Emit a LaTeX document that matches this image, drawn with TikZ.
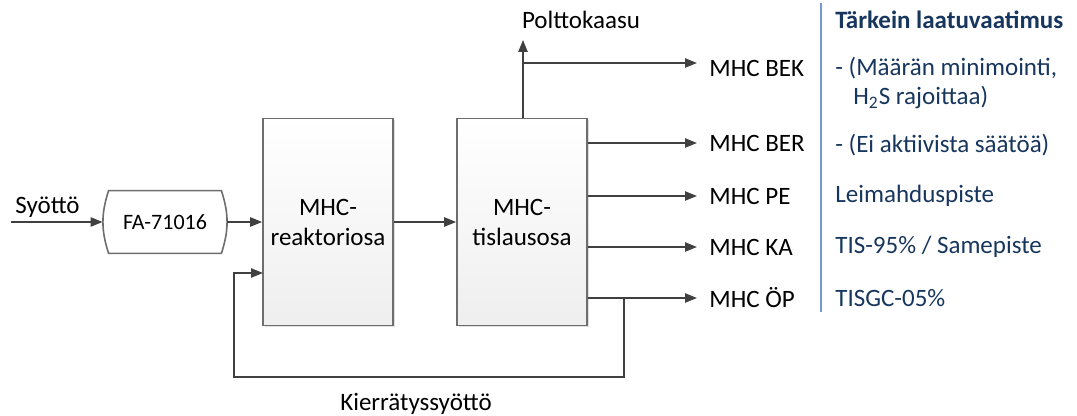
\documentclass[tikz,border=0pt]{standalone}
\usepackage{fontspec}
\setmainfont{Carlito}
\usetikzlibrary{arrows.meta,shadows}
\definecolor{linegray}{RGB}{64,64,64}
\definecolor{boxgray}{RGB}{110,110,110}
\definecolor{navy}{RGB}{23,54,93}
\definecolor{sepblue}{RGB}{120,150,210}

\tikzset{
  flow/.style={draw=linegray, line width=0.9pt, -{Triangle[length=6pt,width=4.6pt]}},
  unit/.style={draw=boxgray, line width=0.8pt, top color=white, bottom color=gray!13,
    minimum width=65pt, minimum height=103.5pt, inner sep=0pt, align=center,
    drop shadow={opacity=0.25, shadow xshift=1pt, shadow yshift=-1pt}},
  drum/.style={minimum width=62pt, minimum height=31pt, inner sep=0pt, font=\fontsize{11}{13}\selectfont},
  drumline/.style={draw=boxgray, line width=0.8pt},
  outlabel/.style={anchor=west, inner sep=0pt},
  req/.style={anchor=west, inner sep=0pt, text=navy}
}

\begin{document}
\begin{tikzpicture}[x=0.5pt, y=-0.5pt, font=\fontsize{12.5}{15}\selectfont]
\useasboundingbox (0,0) rectangle (1077,416);

% units
\node[drum] (fa) at (165,222) {FA-71016};
\draw[drumline] ([xshift=3pt]fa.north west) -- ([xshift=-3pt]fa.north east)
  to[bend left=18] ([xshift=-3pt]fa.south east) -- ([xshift=3pt]fa.south west)
  to[bend left=18] cycle;
\node[unit] (reak) at (328,222) {MHC-\\reaktoriosa};
\node[unit] (tis) at (522,222) {MHC-\\tislausosa};

% feed
\coordinate (feed) at (11,222);
\node[inner sep=0pt, anchor=base west] (syo) at (15,214) {Syöttö};
\draw[flow] (feed) -- (fa.west);
\draw[flow] (fa.east) -- (reak.west);
\draw[flow] (reak.east) -- (tis.west);

% products
\node[inner sep=0pt] (gas) at (581,20) {Polttokaasu};
\coordinate (gastip) at (523,40);
\node[outlabel] (bek) at (709,68) {MHC BEK};
\node[outlabel] (ber) at (709,143) {MHC BER};
\node[outlabel] (pe) at (709,196) {MHC PE};
\node[outlabel] (ka) at (709,247) {MHC KA};
\node[outlabel] (op) at (709,298) {MHC ÖP};

\draw[flow] (tis.north -| gastip) -- (gastip);
\draw[flow] (gastip |- 0,63) -- ([xshift=-6pt]bek.west |- 0,63);
\draw[flow] (tis.east |- ber.west) -- ([xshift=-6pt]ber.west);
\draw[flow] (tis.east |- pe.west) -- ([xshift=-6pt]pe.west);
\draw[flow] (tis.east |- ka.west) -- ([xshift=-6pt]ka.west);
\draw[flow] (tis.east |- op.west) -- ([xshift=-6pt]op.west);

% recycle
\coordinate (split) at (624,298);
\coordinate (loopL) at (234,377);
\coordinate (recin) at (263,273);
\draw[flow] (split) |- (loopL) |- (recin);
\node[inner sep=0pt] (kier) at (416,404) {Kierrätyssyöttö};

% quality requirements
\draw[sepblue, line width=1pt] (821,3) -- (821,312);
\node[req, font=\fontsize{12.5}{15}\bfseries] (head) at (835,20) {Tärkein laatuvaatimus};
\node[req] (r1) at (835,68) {- (Määrän minimointi,};
\node[req] (r1b) at (853,98) {H\textsubscript{2}S rajoittaa)};
\node[req] (r2) at (835,145) {- (Ei aktiivista säätöä)};
\node[req] (r3) at (835,196) {Leimahduspiste};
\node[req] (r4) at (835,247) {TIS-95\% / Samepiste};
\node[req] (r5) at (835,298) {TISGC-05\%};
\end{tikzpicture}
\end{document}
